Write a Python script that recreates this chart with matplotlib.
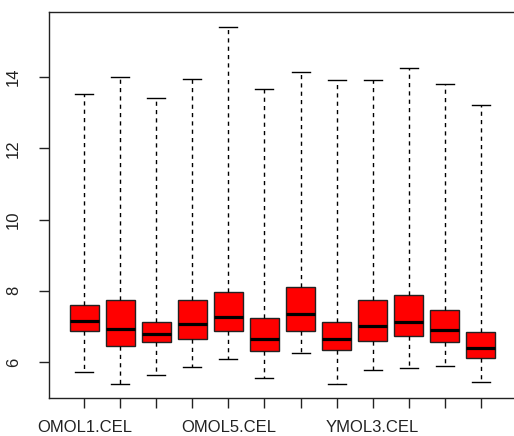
import matplotlib
matplotlib.use("Agg")
import matplotlib.pyplot as plt

categories = ["OMOL1.CEL", "OMOL2.CEL", "OMOL3.CEL", "OMOL4.CEL", "OMOL5.CEL", "OMOL6.CEL",
              "YMOL1.CEL", "YMOL2.CEL", "YMOL3.CEL", "YMOL4.CEL", "YMOL5.CEL", "YMOL6.CEL"]
whislo = [5.73, 5.37, 5.63, 5.87, 6.09, 5.56, 6.24, 5.37, 5.78, 5.84, 5.88, 5.45]
q1     = [6.88, 6.45, 6.55, 6.66, 6.88, 6.31, 6.88, 6.34, 6.60, 6.74, 6.56, 6.12]
med    = [7.15, 6.93, 6.80, 7.08, 7.26, 6.65, 7.34, 6.65, 7.00, 7.12, 6.90, 6.40]
q3     = [7.60, 7.74, 7.12, 7.74, 7.96, 7.24, 8.12, 7.13, 7.74, 7.88, 7.45, 6.83]
whishi = [13.52, 14.00, 13.42, 13.95, 15.40, 13.67, 14.15, 13.92, 13.92, 14.25, 13.81, 13.21]
shown_labels = {0: "OMOL1.CEL", 4: "OMOL5.CEL", 8: "YMOL3.CEL"}
yticks = [6, 8, 10, 12, 14]

plt.rcParams['font.family'] = ['Liberation Sans', 'DejaVu Sans']

fig = plt.figure(figsize=(5.14, 4.36), dpi=100)
ax = fig.add_axes([49/514, 38/436, 467/514, 386/436])

stats = []
for i in range(len(categories)):
    stats.append(dict(whislo=whislo[i], q1=q1[i], med=med[i], q3=q3[i],
                      whishi=whishi[i], fliers=[], label=categories[i]))

positions = list(range(1, len(categories) + 1))
ax.bxp(stats, positions=positions, widths=0.8, capwidths=0.5,
       showfliers=False, patch_artist=True,
       boxprops=dict(facecolor="#ff0000", edgecolor="#222222", linewidth=1.0),
       medianprops=dict(color="black", linewidth=2.3, solid_capstyle="butt"),
       whiskerprops=dict(color="black", linewidth=1.0, linestyle=(0, (3, 3))),
       capprops=dict(color="black", linewidth=1.0))

ax.set_xlim(0.02, 12.98)
ax.set_ylim(4.99, 15.83)
ax.set_xticks(positions)
ax.set_xticklabels([shown_labels.get(i, "") for i in range(len(categories))])
ax.set_yticks(yticks)
ax.set_yticklabels([str(v) for v in yticks], rotation=90, va="center")

ax.tick_params(axis="x", length=7, width=1, pad=9, labelsize=12, colors="#222222")
ax.tick_params(axis="y", length=7, width=1, pad=13, labelsize=12, colors="#222222")
for s in ax.spines.values():
    s.set_linewidth(1.0)
    s.set_color("#222222")

fig.savefig("out.png", dpi=100)
